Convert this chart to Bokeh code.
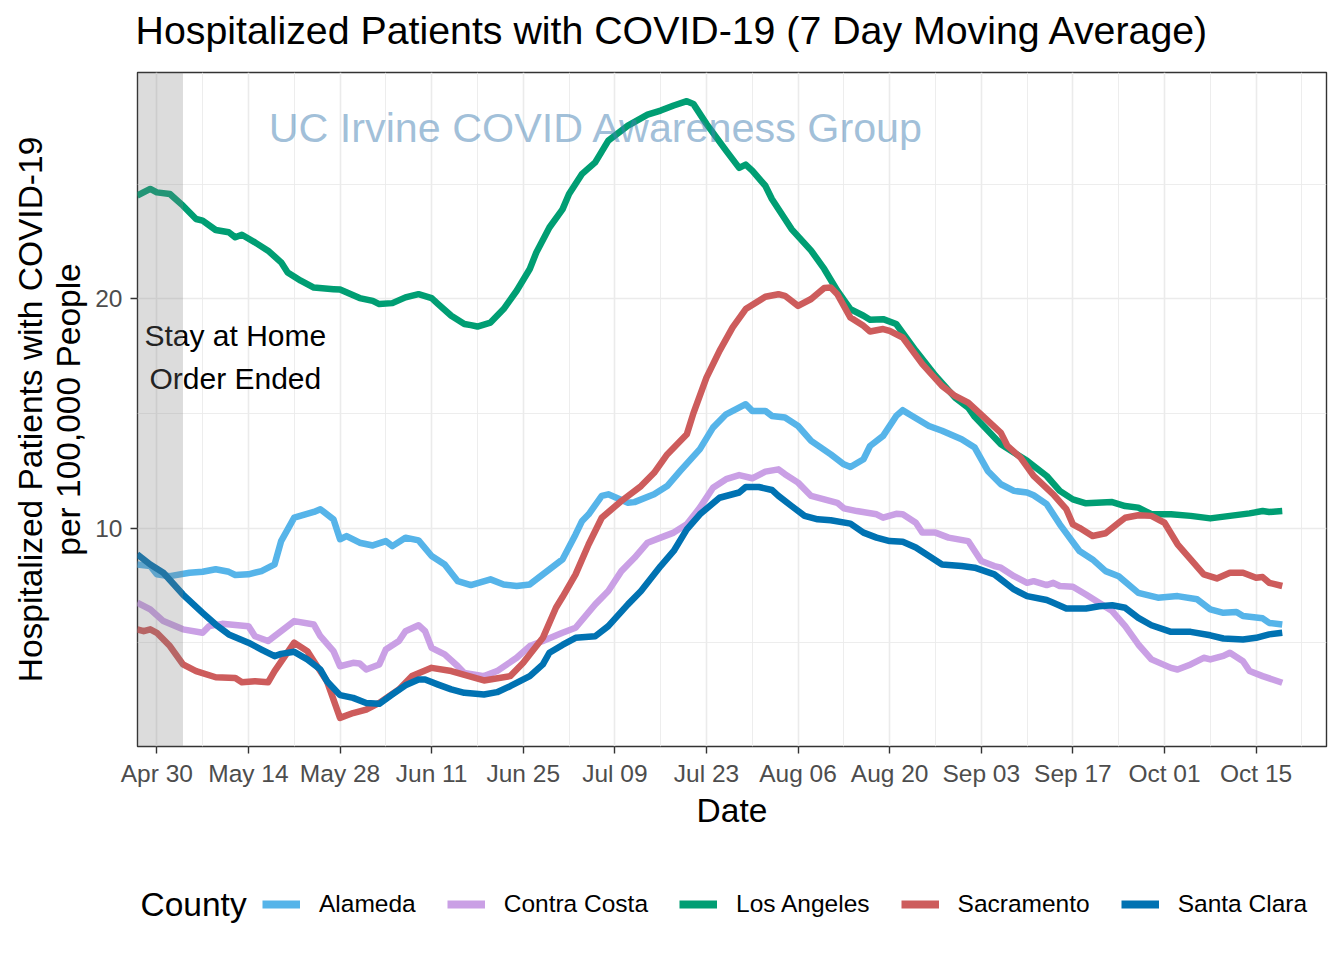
import datetime as dt
from bokeh.plotting import figure
from bokeh.layouts import column
from bokeh.models import (ColumnDataSource, FixedTicker, BoxAnnotation, Legend, LegendItem, Range1d, Label)
from bokeh.core.properties import value
from bokeh.embed import file_html
from bokeh.resources import INLINE

# ---------------- data (days since 2020-04-30, value per 100,000) ----------------
counties = ["Alameda", "Contra Costa", "Los Angeles", "Sacramento", "Santa Clara"]
colors = ["#56B4E9", "#CAA0E5", "#009E73", "#CD5C5C", "#0072B2"]

alameda_day = [-3, -1, 0, 2, 5, 7, 9, 11, 12, 14, 16, 18, 19, 21, 24, 25, 27, 28, 29, 31, 33, 35, 36, 38, 40,
               42, 44, 46, 48, 51, 53, 55, 57, 59, 62, 64, 65, 66, 68, 69, 72, 73, 76, 78, 80, 83, 85, 87, 90,
               91, 93, 94, 96, 98, 100, 103, 105, 106, 108, 109, 111, 113, 114, 115, 118, 120, 123, 125, 127,
               129, 131, 133, 134, 136, 138, 141, 143, 145, 147, 150, 153, 156, 159, 161, 163, 165, 166, 169,
               170, 172]
alameda_val = [8.41, 8.34, 7.98, 7.90, 8.05, 8.09, 8.20, 8.09, 7.95, 7.98, 8.12, 8.41, 9.43, 10.45, 10.70, 10.82,
               10.38, 9.51, 9.65, 9.36, 9.24, 9.43, 9.21, 9.58, 9.46, 8.78, 8.41, 7.68, 7.51, 7.76, 7.54, 7.47,
               7.54, 7.98, 8.63, 9.72, 10.31, 10.60, 11.40, 11.47, 11.10, 11.13, 11.47, 11.83, 12.49, 13.44,
               14.38, 14.96, 15.40, 15.11, 15.11, 14.89, 14.82, 14.45, 13.80, 13.21, 12.78, 12.66, 13.00, 13.58,
               14.02, 14.89, 15.14, 14.96, 14.45, 14.24, 13.87, 13.51, 12.49, 11.91, 11.62, 11.55, 11.43, 11.04,
               10.16, 9.00, 8.63, 8.12, 7.90, 7.17, 6.96, 7.03, 6.89, 6.45, 6.30, 6.34, 6.16, 6.06, 5.86, 5.79]

contra_day = [-3, -1, 1, 4, 7, 8, 10, 14, 15, 17, 19, 21, 24, 25, 27, 28, 30, 31, 32, 34, 35, 37, 38, 40, 41,
              42, 44, 46, 47, 50, 52, 55, 57, 59, 62, 64, 67, 69, 71, 73, 75, 77, 79, 81, 83, 85, 87, 89, 91,
              93, 95, 96, 98, 100, 102, 104, 105, 107, 110, 111, 113, 114, 116, 117, 119, 121, 124, 126, 128,
              129, 131, 133, 134, 136, 137, 138, 140, 142, 144, 146, 148, 150, 152, 155, 156, 158, 160, 161,
              163, 164, 166, 167, 169, 172]
contra_val = [6.74, 6.45, 5.94, 5.58, 5.43, 5.72, 5.82, 5.72, 5.28, 5.07, 5.50, 5.94, 5.79, 5.28, 4.63, 3.97,
              4.12, 4.09, 3.83, 4.05, 4.70, 5.07, 5.50, 5.76, 5.50, 4.77, 4.49, 3.97, 3.68, 3.54, 3.76, 4.34,
              4.85, 5.07, 5.43, 5.65, 6.67, 7.25, 8.12, 8.70, 9.36, 9.58, 9.80, 10.16, 10.89, 11.76, 12.13,
              12.31, 12.17, 12.46, 12.56, 12.35, 11.98, 11.40, 11.25, 11.10, 10.86, 10.74, 10.60, 10.45, 10.62,
              10.60, 10.23, 9.80, 9.80, 9.58, 9.43, 8.56, 8.34, 8.27, 7.90, 7.61, 7.68, 7.51, 7.61, 7.47, 7.44,
              7.10, 6.74, 6.38, 5.72, 4.92, 4.27, 3.90, 3.83, 4.05, 4.34, 4.27, 4.42, 4.56, 4.19, 3.76, 3.54,
              3.25]

la_day = [-3, -1, 0, 2, 4, 6, 7, 9, 11, 12, 13, 15, 17, 19, 20, 22, 24, 27, 28, 31, 33, 34, 36, 38, 40, 42, 43,
          45, 47, 48, 49, 51, 53, 55, 57, 58, 60, 62, 63, 65, 67, 69, 72, 75, 77, 79, 81, 82, 84, 87, 89, 90,
          91, 93, 94, 97, 100, 102, 104, 106, 108, 109, 111, 113, 116, 119, 122, 124, 125, 129, 133, 136, 138,
          140, 142, 146, 148, 150, 152, 155, 158, 161, 164, 167, 169, 170, 172]
la_val = [24.50, 24.79, 24.64, 24.57, 24.06, 23.48, 23.41, 23.00, 22.90, 22.68, 22.79, 22.46, 22.10, 21.59,
          21.15, 20.79, 20.49, 20.42, 20.40, 20.03, 19.91, 19.77, 19.81, 20.06, 20.20, 20.03, 19.77, 19.26,
          18.90, 18.85, 18.79, 18.96, 19.55, 20.35, 21.30, 22.02, 23.11, 23.90, 24.57, 25.45, 25.95, 26.90,
          27.55, 28.03, 28.21, 28.43, 28.62, 28.50, 27.63, 26.46, 25.71, 25.85, 25.59, 24.93, 24.35, 23.04,
          22.10, 21.30, 20.35, 19.55, 19.26, 19.08, 19.11, 18.90, 17.73, 16.64, 15.69, 15.25, 14.85, 13.65,
          12.93, 12.27, 11.62, 11.25, 11.08, 11.13, 10.96, 10.89, 10.60, 10.60, 10.53, 10.42, 10.53, 10.64,
          10.74, 10.70, 10.74]

sac_day = [-3, -2, -1, 0, 2, 4, 6, 9, 12, 13, 15, 17, 18, 21, 23, 24, 26, 28, 30, 32, 34, 37, 39, 42, 45, 50,
           54, 56, 59, 61, 62, 64, 66, 68, 71, 74, 76, 78, 81, 82, 84, 86, 88, 90, 93, 95, 96, 98, 100, 102,
           103, 104, 106, 108, 109, 111, 112, 114, 117, 120, 122, 124, 126, 129, 130, 132, 134, 137, 139, 140,
           141, 143, 145, 147, 148, 150, 152, 154, 156, 158, 160, 162, 164, 166, 168, 169, 170, 172]
sac_val = [5.58, 5.50, 5.58, 5.43, 4.85, 4.05, 3.76, 3.49, 3.46, 3.27, 3.32, 3.27, 3.76, 5.00, 4.63, 4.19, 3.32,
           1.72, 1.93, 2.08, 2.37, 2.96, 3.54, 3.90, 3.76, 3.35, 3.54, 4.12, 5.21, 6.52, 6.99, 7.98, 9.29,
           10.45, 11.18, 11.83, 12.41, 13.21, 14.09, 15.00, 16.56, 17.73, 18.75, 19.55, 20.09, 20.20, 20.13,
           19.69, 19.99, 20.47, 20.49, 20.20, 19.18, 18.82, 18.57, 18.68, 18.60, 18.31, 17.15, 16.20, 15.76,
           15.47, 14.95, 14.15, 13.58, 13.07, 12.27, 11.47, 10.82, 10.16, 10.01, 9.65, 9.77, 10.23, 10.45,
           10.56, 10.53, 10.23, 9.29, 8.63, 7.98, 7.80, 8.05, 8.05, 7.83, 7.86, 7.61, 7.47]

sc_day = [-3, -1, 1, 4, 7, 9, 11, 14, 16, 18, 19, 21, 23, 25, 26, 28, 30, 32, 34, 36, 38, 40, 41, 43, 45, 47,
          50, 52, 54, 57, 59, 60, 62, 64, 67, 69, 72, 74, 77, 79, 81, 83, 86, 89, 90, 92, 94, 95, 97, 99, 101,
          103, 106, 108, 110, 112, 114, 116, 118, 120, 123, 125, 128, 129, 131, 133, 136, 137, 139, 142, 144,
          146, 148, 150, 152, 155, 158, 161, 163, 166, 168, 170, 172]
sc_val = [8.85, 8.41, 8.05, 7.10, 6.30, 5.79, 5.36, 5.00, 4.70, 4.41, 4.51, 4.60, 4.27, 3.83, 3.32, 2.71, 2.59,
          2.37, 2.33, 2.74, 3.14, 3.39, 3.39, 3.17, 2.96, 2.81, 2.74, 2.84, 3.10, 3.54, 4.05, 4.56, 4.90, 5.21,
          5.28, 5.72, 6.67, 7.25, 8.34, 9.00, 9.94, 10.60, 11.32, 11.55, 11.79, 11.79, 11.66, 11.40, 10.96,
          10.53, 10.38, 10.34, 10.19, 9.80, 9.58, 9.43, 9.40, 9.15, 8.78, 8.41, 8.34, 8.27, 7.98, 7.76, 7.32,
          7.03, 6.86, 6.74, 6.49, 6.49, 6.59, 6.63, 6.52, 6.08, 5.76, 5.47, 5.47, 5.32, 5.18, 5.14, 5.21, 5.36,
          5.43]

tick_days = [0, 14, 28, 42, 56, 70, 84, 98, 112, 126, 140, 154, 168]
tick_labels = ["Apr 30", "May 14", "May 28", "Jun 11", "Jun 25", "Jul 09", "Jul 23",
               "Aug 06", "Aug 20", "Sep 03", "Sep 17", "Oct 01", "Oct 15"]
y_ticks = [10, 20]
y_minor = [5, 15, 25]
order_end_day = 4  # May 4

series_days = [alameda_day, contra_day, la_day, sac_day, sc_day]
series_vals = [alameda_val, contra_val, la_val, sac_val, sc_val]

FONT = "Liberation Sans"
W = 1328
H_TITLE = 60
H_MAIN = 790
H_LEG = 94


def strip(height):
    f = figure(width=W, height=height, output_backend="svg", toolbar_location=None,
               x_range=Range1d(0, 1), y_range=Range1d(0, 1), min_border=0,
               x_axis_location=None, y_axis_location=None)
    f.xgrid.visible = False
    f.ygrid.visible = False
    f.outline_line_color = None
    f.background_fill_color = "white"
    f.border_fill_color = "white"
    return f


# ---------------- title strip ----------------
pt = strip(H_TITLE)
pt.add_layout(Label(x=-2, y=31, x_units="screen", y_units="screen",
                    text="Hospitalized Patients with COVID-19  (7 Day Moving Average)",
                    text_font=FONT, text_font_size="39.3px", text_color="black",
                    text_baseline="middle", text_align="left"))

# ---------------- main plot ----------------
p = figure(width=W, height=H_MAIN, output_backend="svg", toolbar_location=None,
           x_range=Range1d(-2.95, 178.76), y_range=Range1d(0.47, 29.87),
           min_border_left=137, min_border_right=2, min_border_top=12, min_border_bottom=104)
p.background_fill_color = "white"
p.border_fill_color = "white"
p.outline_line_color = "#333333"
p.outline_line_width = 1.4

# grid
p.xgrid.ticker = FixedTicker(ticks=tick_days, minor_ticks=[d + 7 for d in [-14] + tick_days])
p.ygrid.ticker = FixedTicker(ticks=y_ticks, minor_ticks=y_minor)
for g in (p.xgrid[0], p.ygrid[0]):
    g.grid_line_color = "#EBEBEB"
    g.grid_line_width = 1.6
    g.minor_grid_line_color = "#EBEBEB"
    g.minor_grid_line_width = 0.9

# axes
xa = p.xaxis[0]
xa.ticker = FixedTicker(ticks=tick_days)
xa.major_label_overrides = {d: lab for d, lab in zip(tick_days, tick_labels)}
ya = p.yaxis[0]
ya.ticker = FixedTicker(ticks=y_ticks)
ya.major_label_overrides = {v: str(v) for v in y_ticks}
for ax in (xa, ya):
    ax.axis_line_color = None
    ax.major_tick_line_color = "#333333"
    ax.major_tick_line_width = 1.4
    ax.major_tick_out = 7
    ax.major_tick_in = 0
    ax.minor_tick_out = 0
    ax.minor_tick_in = 0
    ax.major_label_text_font = FONT
    ax.major_label_text_font_size = "24.5px"
    ax.major_label_text_color = "#4D4D4D"
    ax.axis_label_text_font = FONT
    ax.axis_label_text_font_size = "33.5px"
    ax.axis_label_text_font_style = "normal"
    ax.axis_label_text_color = "black"
xa.axis_label = "Date"
xa.major_label_standoff = 6
xa.axis_label_standoff = 2
ya.axis_label = "Hospitalized Patients with COVID-19\nper 100,000 People"
ya.axis_label_text_line_height = 1.04
ya.major_label_standoff = 8
ya.axis_label_standoff = 5

# lines
renderers = []
for name, col, days, vals in zip(counties, colors, series_days, series_vals):
    src = ColumnDataSource(data=dict(x=days, y=vals))
    r = p.line("x", "y", source=src, line_color=col, line_width=6.5, line_join="round")
    renderers.append(r)

# watermark
p.text(x=[67.2], y=[27.43], text=["UC Irvine COVID Awareness Group"], text_font=value(FONT),
       text_font_size="41.3px", text_color="#4682B4", text_alpha=0.5,
       text_align="center", text_baseline="middle")

# stay at home shading
p.add_layout(BoxAnnotation(right=order_end_day, fill_color="#808080", fill_alpha=0.275, line_color=None))

# annotation text
p.text(x=[12, 12], y=[18.41, 16.52], text=["Stay at Home", "Order Ended"], text_font=value(FONT),
       text_font_size="30px", text_color="black", text_align="center", text_baseline="middle")

# ---------------- legend strip ----------------
pl = strip(H_LEG)
leg_renderers = []
for col in colors:
    src = ColumnDataSource(data=dict(x=[float("nan")], y=[float("nan")]))
    leg_renderers.append(pl.line("x", "y", source=src, line_color=col, line_width=8))

legend = Legend(items=[LegendItem(label=n, renderers=[r]) for n, r in zip(counties, leg_renderers)],
                orientation="horizontal", location=(125, 25))
legend.label_text_font = FONT
legend.label_text_font_size = "24.5px"
legend.label_text_color = "black"
legend.glyph_width = 38
legend.glyph_height = 30
legend.label_standoff = 19
legend.spacing = 31
legend.padding = 0
legend.margin = 0
legend.border_line_color = None
legend.background_fill_alpha = 0
pl.add_layout(legend)

pl.add_layout(Label(x=3, y=40, x_units="screen", y_units="screen", text="County",
                    text_font=FONT, text_font_size="33.5px", text_color="black",
                    text_baseline="middle", text_align="left"))

open("out.html", "w").write(file_html(column(pt, p, pl), INLINE))
